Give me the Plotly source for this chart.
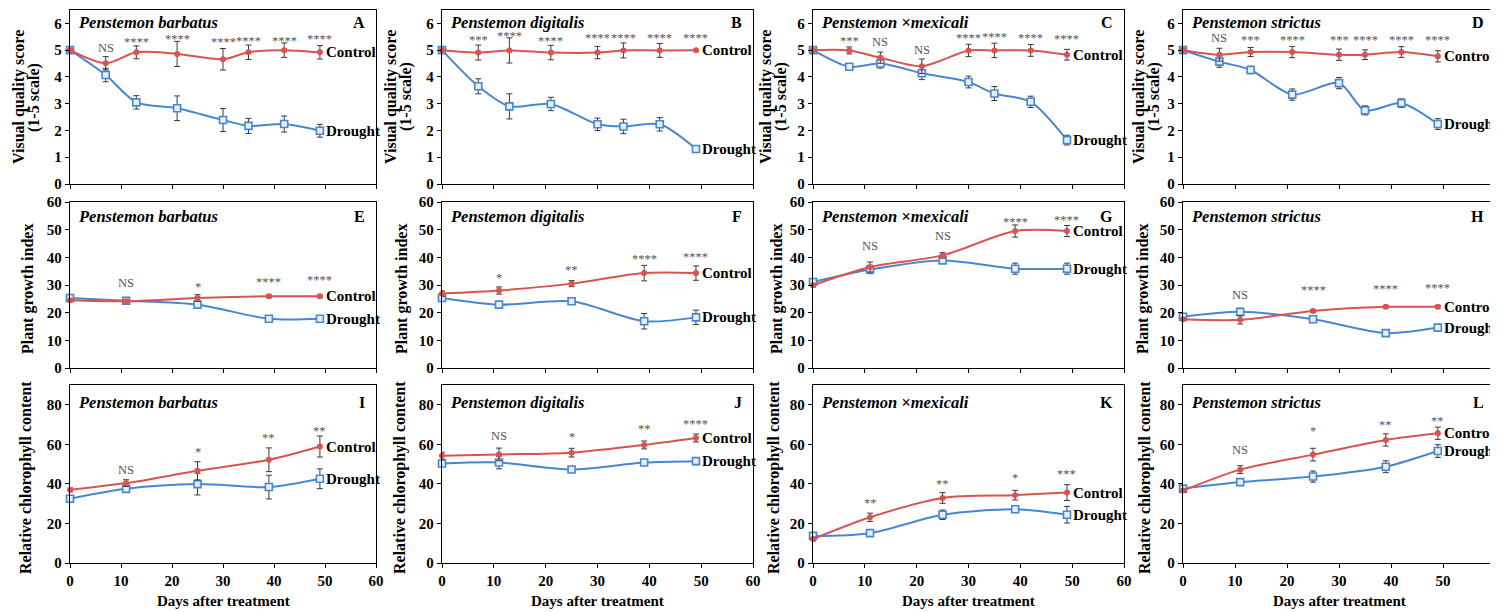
import plotly.graph_objects as go

# ---------------- data ----------------
days_vq = [0, 7, 13, 21, 30, 35, 42, 49]
days_gc = [0, 11, 25, 39, 49]

species = ["Penstemon barbatus", "Penstemon digitalis", "Penstemon ×mexicali", "Penstemon strictus"]
letters = ["A", "B", "C", "D", "E", "F", "G", "H", "I", "J", "K", "L"]
row_titles = [["Visual quality score", "(1-5 scale)"], ["Plant growth index"], ["Relative chlorophyll content"]]
x_title = "Days after treatment"
x_ticks = [0, 10, 20, 30, 40, 50, 60]

# Visual quality (A-D)
A_ctrl = [5.0, 4.51, 4.92, 4.86, 4.66, 4.92, 5.0, 4.92]
A_ctrl_err = [0.04, 0.25, 0.24, 0.47, 0.40, 0.27, 0.27, 0.25]
A_drt = [5.0, 4.07, 3.05, 2.83, 2.39, 2.17, 2.24, 1.99]
A_drt_err = [0.04, 0.25, 0.25, 0.46, 0.43, 0.28, 0.30, 0.24]
A_sig = ["", "NS", "****", "****", "****", "****", "****", "****"]
A_sig_y = [None, 5.07, 5.40, 5.53, 5.40, 5.44, 5.44, 5.53]

B_ctrl = [5.0, 4.91, 4.99, 4.91, 4.91, 4.99, 4.99, 5.0]
B_ctrl_err = [0.0, 0.28, 0.47, 0.27, 0.23, 0.28, 0.26, 0.0]
B_drt = [5.0, 3.65, 2.90, 2.99, 2.23, 2.15, 2.23, 1.31]
B_drt_err = [0.0, 0.28, 0.47, 0.25, 0.23, 0.27, 0.25, 0.05]
B_sig = ["", "***", "****", "****", "****", "****", "****", "****"]
B_sig_y = [None, 5.48, 5.64, 5.45, 5.58, 5.58, 5.55, 5.55]

C_ctrl = [5.0, 4.99, 4.72, 4.40, 4.99, 4.99, 4.99, 4.83]
C_ctrl_err = [0.03, 0.13, 0.21, 0.27, 0.23, 0.27, 0.22, 0.20]
C_drt = [5.0, 4.38, 4.50, 4.14, 3.81, 3.38, 3.07, 1.64]
C_drt_err = [0.03, 0.10, 0.17, 0.24, 0.22, 0.26, 0.21, 0.18]
C_sig = ["", "***", "NS", "NS", "****", "****", "****", "****"]
C_sig_y = [None, 5.47, 5.29, 5.00, 5.56, 5.60, 5.56, 5.54]

D_ctrl = [5.0, 4.83, 4.93, 4.93, 4.83, 4.83, 4.93, 4.77]
D_ctrl_err = [0.03, 0.24, 0.17, 0.21, 0.21, 0.18, 0.20, 0.21]
D_drt = [5.0, 4.57, 4.26, 3.34, 3.77, 2.75, 3.02, 2.24]
D_drt_err = [0.03, 0.21, 0.14, 0.21, 0.21, 0.17, 0.16, 0.20]
D_sig = ["", "NS", "***", "****", "***", "****", "****", "****"]
D_sig_y = [None, 5.45, 5.48, 5.48, 5.48, 5.48, 5.48, 5.48]

# Plant growth index (E-H)
E_ctrl = [24.5, 24.1, 25.3, 25.9, 25.9]
E_ctrl_err = [0.5, 0.5, 1.2, 0.5, 0.5]
E_drt = [25.3, 24.3, 22.9, 17.8, 17.8]
E_drt_err = [0.8, 0.6, 0.8, 0.7, 0.7]
E_sig = ["", "NS", "*", "****", "****"]
E_sig_y = [None, 30.7, 30.4, 32.2, 32.8]

F_ctrl = [26.9, 28.0, 30.5, 34.3, 34.3]
F_ctrl_err = [1.0, 1.3, 1.1, 2.8, 2.6]
F_drt = [25.3, 22.9, 24.1, 16.9, 18.3]
F_drt_err = [1.0, 0.8, 0.8, 2.8, 2.6]
F_sig = ["", "*", "**", "****", "****"]
F_sig_y = [None, 33.7, 36.5, 40.6, 41.2]

G_ctrl = [29.9, 36.5, 40.7, 49.5, 49.5]
G_ctrl_err = [0.6, 1.8, 1.0, 2.2, 2.0]
G_drt = [31.1, 35.6, 38.9, 35.9, 35.9]
G_drt_err = [0.6, 1.5, 1.0, 2.0, 2.0]
G_sig = ["", "NS", "NS", "****", "****"]
G_sig_y = [None, 44.0, 47.7, 54.0, 54.5]

H_ctrl = [17.6, 17.4, 20.6, 22.1, 22.1]
H_ctrl_err = [0.5, 1.5, 0.5, 0.5, 0.5]
H_drt = [18.5, 20.3, 17.6, 12.6, 14.6]
H_drt_err = [1.0, 1.3, 0.7, 0.7, 0.7]
H_sig = ["", "NS", "****", "****", "****"]
H_sig_y = [None, 26.3, 29.3, 29.6, 30.0]

# Relative chlorophyll content (I-L)
I_ctrl = [37.0, 40.4, 46.6, 52.2, 58.9]
I_ctrl_err = [1.0, 1.7, 4.6, 6.0, 5.3]
I_drt = [32.5, 37.5, 39.9, 38.4, 42.6]
I_drt_err = [1.5, 1.5, 5.5, 6.0, 5.0]
I_sig = ["", "NS", "*", "**", "**"]
I_sig_y = [None, 47.0, 57.6, 64.8, 68.2]

J_ctrl = [54.2, 54.9, 55.8, 59.7, 63.2]
J_ctrl_err = [1.8, 3.2, 2.2, 2.0, 2.0]
J_drt = [50.3, 50.8, 47.3, 50.8, 51.5]
J_drt_err = [1.5, 3.2, 1.5, 1.5, 1.8]
J_sig = ["", "NS", "*", "**", "****"]
J_sig_y = [None, 64.4, 65.0, 69.2, 71.8]

K_ctrl = [12.1, 23.1, 32.9, 34.3, 35.6]
K_ctrl_err = [1.0, 2.1, 2.7, 2.4, 4.0]
K_drt = [13.7, 15.1, 24.4, 27.2, 24.4]
K_drt_err = [1.5, 1.2, 2.4, 1.7, 4.2]
K_sig = ["", "**", "**", "*", "***"]
K_sig_y = [None, 32.0, 41.4, 44.4, 46.6]

L_ctrl = [36.6, 47.2, 54.8, 62.2, 65.6]
L_ctrl_err = [1.0, 2.0, 3.2, 3.1, 3.1]
L_drt = [37.6, 40.9, 43.7, 48.7, 56.6]
L_drt_err = [1.0, 1.5, 2.8, 3.0, 3.2]
L_sig = ["", "NS", "*", "**", "**"]
L_sig_y = [None, 57.0, 68.2, 71.3, 73.4]

panels = [
    (A_ctrl, A_ctrl_err, A_drt, A_drt_err, A_sig, A_sig_y),
    (B_ctrl, B_ctrl_err, B_drt, B_drt_err, B_sig, B_sig_y),
    (C_ctrl, C_ctrl_err, C_drt, C_drt_err, C_sig, C_sig_y),
    (D_ctrl, D_ctrl_err, D_drt, D_drt_err, D_sig, D_sig_y),
    (E_ctrl, E_ctrl_err, E_drt, E_drt_err, E_sig, E_sig_y),
    (F_ctrl, F_ctrl_err, F_drt, F_drt_err, F_sig, F_sig_y),
    (G_ctrl, G_ctrl_err, G_drt, G_drt_err, G_sig, G_sig_y),
    (H_ctrl, H_ctrl_err, H_drt, H_drt_err, H_sig, H_sig_y),
    (I_ctrl, I_ctrl_err, I_drt, I_drt_err, I_sig, I_sig_y),
    (J_ctrl, J_ctrl_err, J_drt, J_drt_err, J_sig, J_sig_y),
    (K_ctrl, K_ctrl_err, K_drt, K_drt_err, K_sig, K_sig_y),
    (L_ctrl, L_ctrl_err, L_drt, L_drt_err, L_sig, L_sig_y),
]

# ---------------- layout / style ----------------
PAGE_W, PAGE_H = 1498, 612
OFF = 8                      # default page (body) margin of the browser
W, H = PAGE_W - OFF, PAGE_H - OFF
col_px = [(70, 376), (442, 753), (813, 1124), (1183, 1495)]
row_px = [(10, 184), (202, 368), (385, 563)]
row_range = [[0, 6.5], [0, 60], [0, 90]]
row_dtick = [1, 10, 20]
ytitle_px = [
    [[19, 34], [391, 406], [766, 781], [1139, 1154]],
    [[28], [402], [777], [1143]],
    [[26], [400], [774], [1145]],
]

FONT = "Liberation Serif"
RED = "#D9534F"
BLUE = "#4A86CF"
ERR = "#3a3a3a"
SIG = "#555555"

fig = go.Figure()
layout = dict(
    template="none",
    width=W, height=H, margin=dict(l=0, r=0, t=0, b=0, autoexpand=False),
    paper_bgcolor="white", plot_bgcolor="white", showlegend=False,
    font=dict(family=FONT, color="black"),
)
annotations = []


def px_x(v):
    return (v - OFF) / W


def px_y(v):
    return 1 - (v - OFF) / H


for i, (ctrl, ctrl_err, drt, drt_err, sig, sig_y) in enumerate(panels):
    row, col = divmod(i, 4)
    n = i + 1
    xa = "x" if n == 1 else f"x{n}"
    ya = "y" if n == 1 else f"y{n}"
    days = days_vq if row == 0 else days_gc
    x0, x1 = col_px[col]
    y0, y1 = row_px[row]

    layout[f"xaxis{'' if n == 1 else n}"] = dict(
        domain=[px_x(x0), px_x(x1)], anchor=ya, range=[0, 60], automargin=False,
        tickvals=x_ticks, ticks="outside", ticklen=4, tickwidth=1.3, tickcolor="black",
        showline=True, linecolor="black", linewidth=1.4, mirror=True,
        showgrid=False, zeroline=False, showticklabels=(row == 2),
        tickfont=dict(family=FONT, size=15, color="black", weight="bold"),
    )
    layout[f"yaxis{'' if n == 1 else n}"] = dict(
        domain=[px_y(y1), px_y(y0)], anchor=xa, range=row_range[row], automargin=False,
        dtick=row_dtick[row], tick0=0, ticks="outside", ticklen=4, tickwidth=1.3, tickcolor="black",
        showline=True, linecolor="black", linewidth=1.4, mirror=True,
        showgrid=False, zeroline=False,
        tickfont=dict(family=FONT, size=15, color="black", weight="bold"),
    )

    fig.add_trace(go.Scatter(
        x=days, y=drt, mode="lines+markers", xaxis=xa, yaxis=ya,
        line=dict(color=BLUE, width=2, shape="spline", smoothing=0.8),
        marker=dict(symbol="square", size=7, color="#e6eef8", line=dict(color=BLUE, width=1.6)),
        error_y=dict(type="data", array=drt_err, color=ERR, thickness=1, width=3),
        cliponaxis=False, name="Drought",
    ))
    fig.add_trace(go.Scatter(
        x=days, y=ctrl, mode="lines+markers", xaxis=xa, yaxis=ya,
        line=dict(color=RED, width=2, shape="spline", smoothing=0.8),
        marker=dict(symbol="circle", size=6, color=RED),
        error_y=dict(type="data", array=ctrl_err, color=ERR, thickness=1, width=3),
        cliponaxis=False, name="Control",
    ))

    # series labels
    annotations.append(dict(x=days[-1], y=ctrl[-1], xref=xa, yref=ya, text="<b>Control</b>",
                            showarrow=False, xanchor="left", yanchor="middle", xshift=4,
                            font=dict(family=FONT, size=15, color="black")))
    annotations.append(dict(x=days[-1], y=drt[-1], xref=xa, yref=ya, text="<b>Drought</b>",
                            showarrow=False, xanchor="left", yanchor="middle", xshift=4,
                            font=dict(family=FONT, size=15, color="black")))
    # significance labels
    for d, s, sy in zip(days, sig, sig_y):
        if s:
            annotations.append(dict(x=d, y=sy, xref=xa, yref=ya, text=s, showarrow=False,
                                    xanchor="center", yanchor="middle",
                                    yshift=(-3 if "*" in s else 0),
                                    font=dict(family=FONT, size=12.5, color=SIG)))
    ty = y0 + (13 if row == 0 else 15 if row == 1 else 17)
    # species title
    annotations.append(dict(x=px_x(x0 + 6), y=px_y(ty),
                            xref="paper", yref="paper", text=f"<b><i>{species[col]}</i></b>",
                            showarrow=False, xanchor="left", yanchor="middle",
                            font=dict(family=FONT, size=16.5, color="black")))
    # panel letter
    annotations.append(dict(x=px_x(x1 - 9), y=px_y(ty),
                            xref="paper", yref="paper", text=f"<b>{letters[i]}</b>",
                            showarrow=False, xanchor="right", yanchor="middle",
                            font=dict(family=FONT, size=16, color="black")))
    # y title (one annotation per line)
    for line_txt, lx in zip(row_titles[row], ytitle_px[row][col]):
        annotations.append(dict(x=px_x(lx), y=px_y((y0 + y1) / 2 + (0 if row == 0 else 4)),
                                xref="paper", yref="paper", text=f"<b>{line_txt}</b>",
                                showarrow=False, textangle=-90, xanchor="center", yanchor="middle",
                                font=dict(family=FONT, size=16, color="black")))
    # x title
    if row == 2:
        annotations.append(dict(x=px_x((x0 + x1) / 2), y=px_y(601), xref="paper", yref="paper",
                                text=f"<b>{x_title}</b>", showarrow=False,
                                xanchor="center", yanchor="middle",
                                font=dict(family=FONT, size=15, color="black")))

layout["annotations"] = annotations
fig.update_layout(**layout)
fig.write_html("out.html")
